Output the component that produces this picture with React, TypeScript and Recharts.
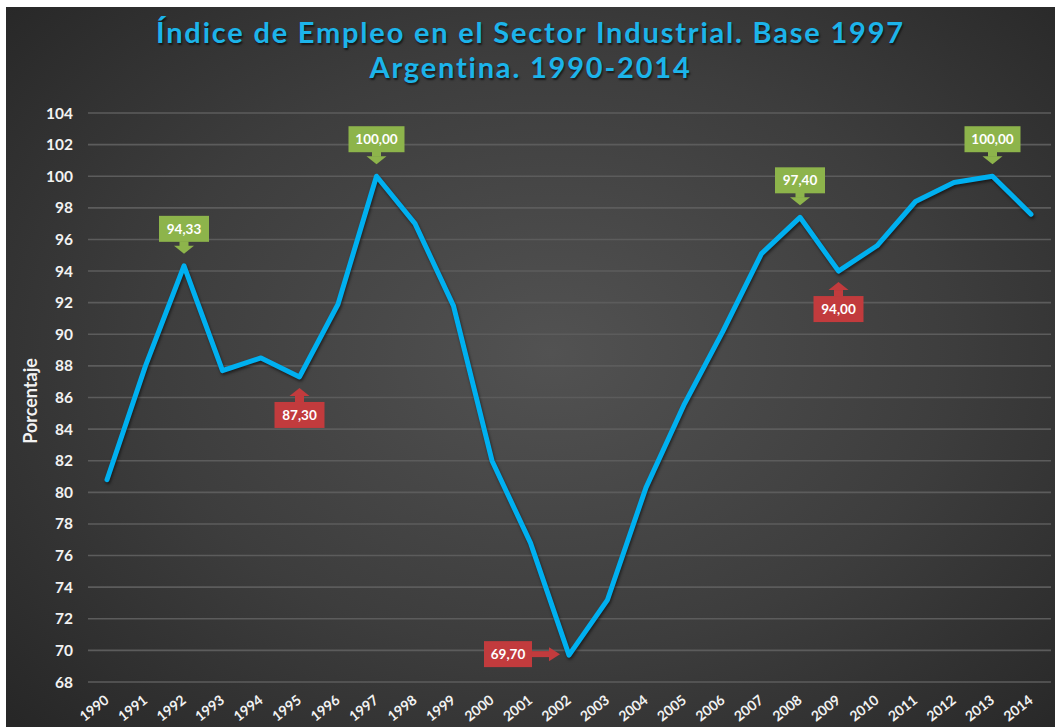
import React from "react";
import { LineChart, Line, XAxis, YAxis, CartesianGrid } from "recharts";

const years = [
  "1990", "1991", "1992", "1993", "1994", "1995", "1996", "1997", "1998",
  "1999", "2000", "2001", "2002", "2003", "2004", "2005", "2006", "2007",
  "2008", "2009", "2010", "2011", "2012", "2013", "2014",
];

const employmentIndex = [
  80.8, 88.0, 94.33, 87.7, 88.5, 87.3, 91.9, 100.0, 97.0, 91.8, 82.0, 76.8,
  69.7, 73.2, 80.3, 85.6, 90.2, 95.1, 97.4, 94.0, 95.6, 98.4, 99.6, 100.0,
  97.6,
];

const yTicks = [68, 70, 72, 74, 76, 78, 80, 82, 84, 86, 88, 90, 92, 94, 96, 98, 100, 102, 104];

// puntos destacados en el gráfico
const peakYears = ["1992", "1997", "2008", "2013"];
const troughYears = ["1995", "2009"];
const lowestYear = "2002";

const titleLines = [
  "Índice de Empleo en el Sector Industrial. Base 1997",
  "Argentina. 1990-2014",
];

const data = years.map((year, i) => ({ year, value: employmentIndex[i] }));

const FONT = "Lato, 'Open Sans', sans-serif";
const GREEN = "#8db44b";
const RED = "#c23b3d";

const fmt = (v: number) => v.toFixed(2).replace(".", ",");

const renderCallout = (props: any) => {
  const { cx, cy, payload, index } = props;
  const key = `callout-${index}`;
  if (cx == null || cy == null || !payload) return <g key={key} />;
  const text = fmt(payload.value);
  const w = text.length > 5 ? 56 : 50;
  const textStyle = {
    fill: "#ffffff",
    fontSize: 13.5,
    fontWeight: 700,
    fontFamily: FONT,
  };

  if (peakYears.includes(payload.year)) {
    return (
      <g key={key}>
        <rect x={cx - w / 2} y={cy - 50} width={w} height={26} fill={GREEN} />
        <rect x={cx - 4.5} y={cy - 24.5} width={9} height={5} fill={GREEN} />
        <polygon points={`${cx - 10},${cy - 20} ${cx + 10},${cy - 20} ${cx},${cy - 12}`} fill={GREEN} />
        <text x={cx} y={cy - 37} textAnchor="middle" dominantBaseline="central" style={textStyle}>
          {text}
        </text>
      </g>
    );
  }
  if (troughYears.includes(payload.year)) {
    return (
      <g key={key}>
        <polygon points={`${cx},${cy + 11} ${cx + 10},${cy + 19} ${cx - 10},${cy + 19}`} fill={RED} />
        <rect x={cx - 4.5} y={cy + 19} width={9} height={6.5} fill={RED} />
        <rect x={cx - w / 2} y={cy + 25} width={w} height={26} fill={RED} />
        <text x={cx} y={cy + 38} textAnchor="middle" dominantBaseline="central" style={textStyle}>
          {text}
        </text>
      </g>
    );
  }
  if (payload.year === lowestYear) {
    return (
      <g key={key}>
        <rect x={cx - 85} y={cy - 14} width={48} height={26} fill={RED} />
        <rect x={cx - 37.5} y={cy - 4} width={18} height={6} fill={RED} />
        <polygon points={`${cx - 20},${cy - 8} ${cx - 9},${cy - 1} ${cx - 20},${cy + 6}`} fill={RED} />
        <text x={cx - 61} y={cy - 1} textAnchor="middle" dominantBaseline="central" style={textStyle}>
          {text}
        </text>
      </g>
    );
  }
  return <g key={key} />;
};

const YearTick = (props: any) => {
  const { x, y, payload } = props;
  const ax = x + 3;
  const ay = y + 20;
  return (
    <text
      x={ax}
      y={ay}
      textAnchor="end"
      transform={`rotate(-38, ${ax}, ${ay})`}
      style={{ fill: "#f2f2f2", fontSize: 14, fontWeight: 700, fontFamily: FONT }}
    >
      {payload.value}
    </text>
  );
};

export default function App() {
  return (
    <div
      style={{
        position: "absolute",
        left: 0,
        top: 0,
        width: 1055,
        height: 727,
        background: "#ffffff",
        overflow: "hidden",
      }}
    >
      <div
        style={{
          position: "absolute",
          left: 6,
          top: 7,
          width: 1049,
          height: 720,
          background:
            "radial-gradient(ellipse 70% 75% at 52% 48%, #525252 0%, #3d3d3d 55%, #272727 100%)",
        }}
      >
        <div
          style={{
            position: "absolute",
            left: 0,
            top: 7,
            width: 1049,
            textAlign: "center",
            color: "#1cb4ea",
            fontFamily: FONT,
            fontWeight: 700,
            fontSize: 29,
            letterSpacing: 1.8,
            lineHeight: "35px",
            textShadow: "1px 2px 2px rgba(0,0,0,0.6)",
          }}
        >
          {titleLines.map((t) => (
            <div key={t}>{t}</div>
          ))}
        </div>
        <div
          style={{
            position: "absolute",
            left: 24 - 60,
            top: 394 - 11,
            width: 120,
            height: 22,
            lineHeight: "22px",
            textAlign: "center",
            transform: "rotate(-90deg)",
            color: "#f2f2f2",
            fontFamily: FONT,
            fontWeight: 700,
            fontSize: 18,
          }}
        >
          Porcentaje
        </div>
        <LineChart
          width={1049}
          height={720}
          data={data}
          margin={{ top: 106, right: 4, bottom: 0, left: 0 }}
          style={{ position: "absolute", left: 0, top: 0 }}
        >
          <CartesianGrid vertical={false} stroke="#5c5c5c" strokeWidth={1.6} />
          <XAxis
            dataKey="year"
            interval={0}
            height={45}
            padding={{ left: 19, right: 20 }}
            axisLine={false}
            tickLine={false}
            tickSize={0}
            tickMargin={0}
            tick={<YearTick />}
          />
          <YAxis
            domain={[68, 104]}
            ticks={yTicks}
            interval={0}
            width={82}
            axisLine={false}
            tickLine={false}
            tickSize={0}
            tickMargin={15}
            tick={{ fill: "#f2f2f2", fontSize: 15.5, fontWeight: 700, fontFamily: FONT }}
          />
          <Line
            type="linear"
            dataKey="value"
            stroke="#00b0f0"
            strokeWidth={5}
            strokeLinejoin="round"
            strokeLinecap="round"
            style={{ filter: "drop-shadow(1px 2px 1.5px rgba(0,0,0,0.55))" }}
            dot={renderCallout}
            activeDot={false}
            isAnimationActive={false}
          />
        </LineChart>
      </div>
    </div>
  );
}
